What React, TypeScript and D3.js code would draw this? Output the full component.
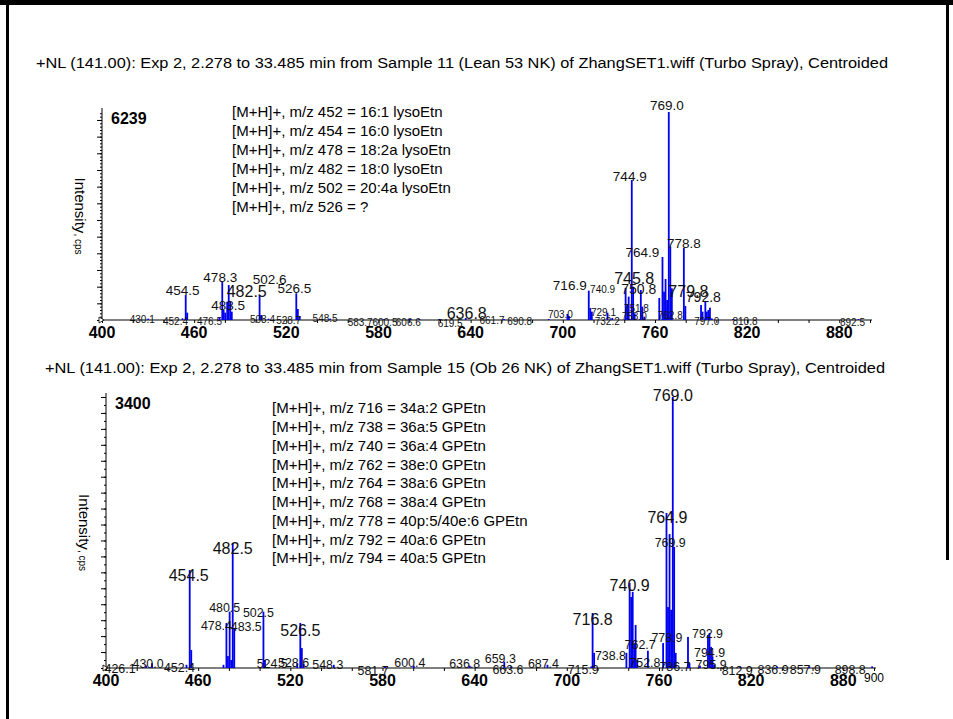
import { useEffect, useRef } from "react";
import * as d3 from "d3";

const W = 953;
const H = 719;
const FONT = "'Liberation Sans', Arial, sans-serif";

// Sample 11 (Lean 53 NK): centroided peaks, m/z and intensity (cps)
const leanMz = [
  430.1, 452.4, 454.5, 455.5, 476.5, 478.3, 479.2, 480.2, 481.5, 482.5, 483.5, 484.5,
  502.6, 503.6, 508.4, 526.5, 527.5, 528.7, 548.5, 583.7, 600.5, 606.6, 619.5, 636.8,
  661.7, 690.8, 703.0, 704.0, 716.9, 717.9, 718.9, 729.1, 732.2, 740.9, 741.9, 742.9,
  744.9, 745.8, 746.8, 750.8, 751.8, 753.0, 762.8, 764.9, 765.9, 766.9, 767.9, 769.0,
  770.0, 771.0, 778.8, 779.8, 790.0, 791.0, 792.8, 793.8, 794.8, 795.8, 797.0, 810.8, 892.5,
];
const leanInt = [
  40, 50, 750, 220, 80, 1150, 300, 220, 550, 1050, 550, 250,
  750, 150, 40, 800, 330, 110, 40, 30, 30, 30, 30, 60,
  30, 30, 180, 120, 880, 360, 250, 220, 60, 960, 480, 700,
  4200, 1000, 200, 900, 400, 100, 660, 1890, 850, 1230, 600, 6239,
  2200, 950, 2160, 420, 450, 250, 550, 250, 300, 370, 50, 30, 30,
];
const leanLabels = [
  "430.1", "452.4", "454.5", "476.5", "478.3", "483.5", "482.5", "502.6", "508.4", "526.5",
  "528.7", "548.5", "583.7", "600.5", "606.6", "619.5", "636.8", "661.7", "690.8", "703.0",
  "716.9", "740.9", "729.1", "732.2", "745.8", "750.8", "751.8", "753.0", "744.9", "764.9",
  "769.0", "778.8", "779.8", "762.8", "792.8", "797.0", "810.8", "892.5",
];
const leanLegend = [
  "[M+H]+, m/z 452 = 16:1 lysoEtn",
  "[M+H]+, m/z 454 = 16:0 lysoEtn",
  "[M+H]+, m/z 478 = 18:2a lysoEtn",
  "[M+H]+, m/z 482 = 18:0 lysoEtn",
  "[M+H]+, m/z 502 = 20:4a lysoEtn",
  "[M+H]+, m/z 526 = ?",
];

// Sample 15 (Ob 26 NK)
const obMz = [
  426.1, 430.0, 452.4, 454.5, 455.5, 476.5, 478.4, 479.4, 480.5, 481.5, 482.5, 483.5,
  502.5, 503.5, 524.5, 526.5, 527.5, 528.6, 548.3, 581.7, 600.4, 636.8, 659.3, 663.6,
  687.4, 715.9, 716.8, 717.8, 738.8, 740.9, 741.9, 742.9, 743.9, 744.8, 745.8, 752.8,
  762.7, 764.9, 765.9, 766.9, 767.9, 769.0, 769.9, 770.9, 778.9, 779.9, 786.7, 791.9,
  792.9, 793.9, 794.9, 795.9, 812.9, 836.9, 857.9, 898.8,
];
const obInt = [
  30, 60, 40, 1230, 225, 40, 565, 150, 707, 100, 1569, 500,
  707, 100, 60, 565, 250, 50, 40, 20, 30, 30, 80, 20,
  40, 20, 690, 190, 190, 1067, 890, 955, 300, 540, 100, 217,
  313, 1945, 765, 1680, 730, 3400, 1520, 190, 390, 60, 30, 414,
  440, 265, 140, 40, 20, 20, 20, 20,
];
const obLabels = [
  "426.1", "430.0", "452.4", "454.5", "478.4", "480.5", "482.5", "483.5", "502.5", "524.5",
  "526.5", "528.6", "548.3", "581.7", "600.4", "636.8", "659.3", "663.6", "687.4", "715.9",
  "716.8", "738.8", "740.9", "762.7", "752.8", "764.9", "769.0", "769.9", "778.9", "786.7",
  "792.9", "794.9", "795.9", "812.9", "836.9", "857.9", "898.8",
];
const obLegend = [
  "[M+H]+, m/z 716 = 34a:2 GPEtn",
  "[M+H]+, m/z 738 = 36a:5 GPEtn",
  "[M+H]+, m/z 740 = 36a:4 GPEtn",
  "[M+H]+, m/z 762 = 38e:0 GPEtn",
  "[M+H]+, m/z 764 = 38a:6 GPEtn",
  "[M+H]+, m/z 768 = 38a:4 GPEtn",
  "[M+H]+, m/z 778 = 40p:5/40e:6 GPEtn",
  "[M+H]+, m/z 792 = 40a:6 GPEtn",
  "[M+H]+, m/z 794 = 40a:5 GPEtn",
];

const xTicks = [400, 460, 520, 580, 640, 700, 760, 820, 880];

// label placement: [dx, dy, font size] relative to the peak top
const leanLabelLayout: Record<string, [number, number, number]> = {
  "430.1": [-6, 1, 10], "452.4": [-7, 3, 10], "454.5": [-3, -5, 13.5], "476.5": [-10, 4, 10],
  "478.3": [-2, -5, 13.5], "483.5": [-2, 3, 13.5], "482.5": [18, 6, 16], "502.6": [10, -16, 13.5],
  "508.4": [-6, 1, 10], "526.5": [-2, -5, 13.5], "528.7": [-11, 4, 10], "548.5": [-5, 0, 10],
  "583.7": [-24, 3, 10], "600.5": [-25, 3, 10], "606.6": [-11, 3, 10], "619.5": [11, 4, 10],
  "636.8": [1, -5, 16], "661.7": [-12, 1, 10], "690.8": [-29, 2, 10], "703.0": [-7, 0, 10],
  "716.9": [-19, -6, 13.5], "740.9": [-23, 1, 10], "729.1": [-4, 0, 10], "732.2": [-5, 3, 10],
  "745.8": [1, -8, 16], "750.8": [-2, -1, 14], "751.8": [-6, 2, 10], "753.0": [-10, 0, 10],
  "744.9": [-2, -4, 13.5], "764.9": [-20, -5, 13.5], "769.0": [-2, -7, 13.5], "778.8": [0, -5, 13.5],
  "779.8": [3, -15, 16], "762.8": [11, 17, 10], "792.8": [-2, -5, 14], "797.0": [-5, 3, 10],
  "810.8": [12, 2, 10], "892.5": [-6, 3, 10],
};
const obLabelLayout: Record<string, [number, number, number]> = {
  "426.1": [-26, 3, 12.4], "430.0": [-4, 0, 12.4], "452.4": [-7, 3, 12.4], "454.5": [-1, 5, 16],
  "478.4": [-10, 3, 12.4], "480.5": [-5, -4, 12.4], "482.5": [0, 5, 16], "483.5": [12, -2, 12.4],
  "502.5": [-5, 1, 12.4], "524.5": [-25, 0, 12.4], "526.5": [0, 7, 16], "528.6": [-10, -1, 12.4],
  "548.3": [-6, 0, 12.4], "581.7": [-12, 4, 12.4], "600.4": [-4, -3, 12.4], "636.8": [-5, -2, 12.4],
  "659.3": [-4, -3, 12.4], "663.6": [-3, 3, 12.4], "687.4": [-4, -1, 12.4], "715.9": [-8, 3, 12.4],
  "716.8": [0, 6, 16], "738.8": [-16, 3, 12.4], "740.9": [0, 2, 16], "762.7": [-23, 1, 12.4],
  "752.8": [-3, 12, 12.4], "764.9": [1, 4, 16], "769.0": [0, -2, 16], "769.9": [-4, -4, 12.4],
  "778.9": [-21, 1, 12.4], "786.7": [-25, 1, 12.4], "792.9": [-2, 1, 12.4], "794.9": [-3, -4, 12.4],
  "795.9": [-3, 0, 12.4], "812.9": [-3, 4, 12.4], "836.9": [-4, 3, 12.4], "857.9": [-4, 3, 12.4],
  "898.8": [-22, 3, 12.4],
};

type Panel = {
  title: string;
  titleX: number;
  titleY: number;
  titleLen: number;
  x0: number;
  base: number;
  top: number;
  max: number;
  major: number;
  minor: number;
  mz: number[];
  intensity: number[];
  labels: string[];
  layout: Record<string, [number, number, number]>;
  legend: string[];
  legendX: number;
  legendY: number;
  legendStep: number;
  endLabel: boolean;
};

function drawPanel(svg: d3.Selection<SVGSVGElement, unknown, null, undefined>, p: Panel) {
  const x = d3.scaleLinear().domain([400, 900]).range([p.x0, p.x0 + 768]);
  const y = d3.scaleLinear().domain([0, p.max]).range([p.base, p.top]);
  const g = svg.append("g").style("font-family", FONT).attr("fill", "#000");

  g.append("text")
    .attr("x", p.titleX)
    .attr("y", p.titleY)
    .attr("textLength", p.titleLen)
    .attr("lengthAdjust", "spacingAndGlyphs")
    .style("font-size", "15.5px")
    .text(p.title);

  // y axis: minor + major ticks
  const yMinor = d3.axisLeft(y).tickValues(d3.range(0, p.max + 1, p.minor)).tickSize(2).tickSizeOuter(0).tickFormat(() => "");
  const yMajor = d3.axisLeft(y).tickValues(d3.range(0, p.max + 1, p.major)).tickSize(5).tickSizeOuter(0).tickFormat(() => "");
  const ya = g.append("g").attr("transform", `translate(${p.x0},0)`);
  ya.append("g").call(yMinor);
  ya.append("g").call(yMajor);
  ya.selectAll(".domain").remove();
  ya.append("line").attr("y1", p.base).attr("y2", p.top - 4).attr("stroke", "#000");

  // x axis
  const xMinor = d3.axisBottom(x).tickValues(d3.range(400, 901, 20)).tickSize(3).tickSizeOuter(0).tickFormat(() => "");
  const xa = g.append("g").attr("transform", `translate(0,${p.base})`);
  xa.call(xMinor);
  xa.select(".domain").attr("d", `M${p.x0},0H${x(900) + 2}`);
  xa.selectAll("text.tl")
    .data(xTicks)
    .enter()
    .append("text")
    .attr("class", "tl")
    .attr("x", (d) => x(d))
    .attr("y", 18)
    .attr("text-anchor", "middle")
    .attr("fill", "#000")
    .style("font-family", FONT)
    .style("font-size", "16px")
    .style("font-weight", "bold")
    .text((d) => d);
  if (p.endLabel) {
    xa.append("text")
      .attr("x", x(900))
      .attr("y", 14)
      .attr("text-anchor", "middle")
      .attr("fill", "#000")
      .style("font-family", FONT)
      .style("font-size", "12px")
      .text("900");
  }
  // origin marker
  g.append("path")
    .attr("d", `M${p.x0 - 3},${p.base - 3}L${p.x0 + 2},${p.base}L${p.x0 - 3},${p.base + 3}Z`)
    .attr("fill", "#fff")
    .attr("stroke", "#000")
    .attr("stroke-width", 0.8);

  // max intensity
  g.append("text")
    .attr("x", p.x0 + 9)
    .attr("y", p.top + 12)
    .style("font-size", "16px")
    .style("font-weight", "bold")
    .text(p.max);

  // axis title
  const yt = g.append("text")
    .attr("transform", `translate(${p.x0 - 21},${(p.base + p.top) / 2}) rotate(90)`)
    .attr("text-anchor", "middle")
    .attr("dy", "0.35em");
  yt.append("tspan").style("font-size", "15px").text("Intensity");
  yt.append("tspan").style("font-size", "10px").text(", cps");

  // peaks
  const peaks = p.mz.map((m, i) => ({ mz: m, v: p.intensity[i] }));
  g.append("g")
    .selectAll("rect")
    .data(peaks)
    .enter()
    .append("rect")
    .attr("x", (d) => x(d.mz) - 0.9)
    .attr("width", 1.8)
    .attr("y", (d) => y(d.v))
    .attr("height", (d) => p.base - y(d.v))
    .attr("fill", "#0000f0");

  // peak labels
  const lab = p.labels.map((t) => {
    const m = parseFloat(t);
    const pk = peaks.reduce((a, b) => (Math.abs(b.mz - m) < Math.abs(a.mz - m) ? b : a));
    const [dx, dy, fs] = p.layout[t] || [0, -6, 12];
    return { t, x: x(pk.mz) + dx, y: y(pk.v) + dy, fs };
  });
  g.append("g")
    .selectAll("text")
    .data(lab)
    .enter()
    .append("text")
    .attr("x", (d) => d.x)
    .attr("y", (d) => d.y)
    .attr("dy", "0.36em")
    .attr("text-anchor", "middle")
    .style("font-size", (d) => `${d.fs}px`)
    .style("fill", "#111")
    .text((d) => d.t);

  // legend text
  g.append("g")
    .selectAll("text")
    .data(p.legend)
    .enter()
    .append("text")
    .attr("x", p.legendX)
    .attr("y", (_, i) => p.legendY + i * p.legendStep)
    .attr("dy", "0.35em")
    .style("font-size", "15px")
    .text((d) => d);
}

export default function App() {
  const ref = useRef<SVGSVGElement>(null);

  useEffect(() => {
    const svg = d3.select(ref.current as SVGSVGElement);
    svg.selectAll("*").remove();

    svg.append("rect").attr("width", W).attr("height", H).attr("fill", "#fff");
    // frame
    svg.append("rect").attr("x", 0).attr("y", 0).attr("width", W).attr("height", 5).attr("fill", "#000");
    svg.append("rect").attr("x", 6).attr("y", 0).attr("width", 3).attr("height", H).attr("fill", "#000");
    svg.append("rect").attr("x", 946).attr("y", 0).attr("width", 3).attr("height", 560).attr("fill", "#000");

    drawPanel(svg, {
      title: "+NL (141.00): Exp 2, 2.278 to 33.485 min from Sample 11 (Lean 53 NK) of ZhangSET1.wiff (Turbo Spray), Centroided",
      titleX: 36,
      titleY: 68,
      titleLen: 852,
      x0: 102,
      base: 320,
      top: 112,
      max: 6239,
      major: 500,
      minor: 100,
      mz: leanMz,
      intensity: leanInt,
      labels: leanLabels,
      layout: leanLabelLayout,
      legend: leanLegend,
      legendX: 232,
      legendY: 112,
      legendStep: 19,
      endLabel: false,
    });
    drawPanel(svg, {
      title: "+NL (141.00):  Exp 2, 2.278 to 33.485 min from Sample 15 (Ob 26 NK) of ZhangSET1.wiff (Turbo Spray), Centroided",
      titleX: 45,
      titleY: 373,
      titleLen: 840,
      x0: 106,
      base: 668,
      top: 397,
      max: 3400,
      major: 200,
      minor: 100,
      mz: obMz,
      intensity: obInt,
      labels: obLabels,
      layout: obLabelLayout,
      legend: obLegend,
      legendX: 272,
      legendY: 408,
      legendStep: 18.75,
      endLabel: true,
    });
  }, []);

  return (
    <svg
      ref={ref}
      width={W}
      height={H}
      style={{ position: "absolute", left: 0, top: 0, display: "block" }}
    />
  );
}
